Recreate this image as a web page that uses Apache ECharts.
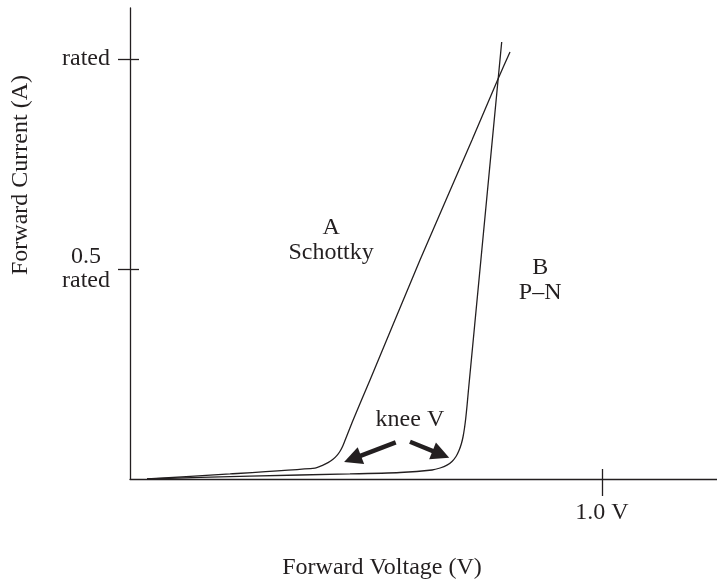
<!DOCTYPE html>
<html>
<head>
<meta charset="utf-8">
<script src="https://cdn.jsdelivr.net/npm/echarts@6/dist/echarts.min.js"></script>
<style>
html,body{margin:0;padding:0;background:#fff;}
#chart{width:717px;height:583px;}
</style>
</head>
<body>
<div id="chart"></div>
<script>
// Curve A (Schottky): forward voltage (V) vs forward current (fraction of rated)
const voltsA   = [0.036, 0.212, 0.392, 0.4068, 0.4195, 0.4301, 0.4386, 0.4453, 0.4508, 0.4555, 0.4710, 0.4905, 0.5085, 0.6144, 0.7246, 0.7797, 0.8051];
const currentA = [0.000, 0.012, 0.026, 0.0319, 0.0390, 0.0471, 0.0562, 0.0667, 0.0786, 0.0917, 0.1357, 0.1881, 0.2357, 0.5214, 0.8071, 0.9524, 1.0167];
// Curve B (P-N)
const voltsB   = [0.036, 0.254, 0.466, 0.572, 0.640, 0.657, 0.6716, 0.6822, 0.6907, 0.6970, 0.7019, 0.7055, 0.7087, 0.7114, 0.7140, 0.7167, 0.7434, 0.7676, 0.7875];
const currentB = [0.000, 0.007, 0.012, 0.0155, 0.0214, 0.0262, 0.0329, 0.0417, 0.0536, 0.0679, 0.0833, 0.1000, 0.1214, 0.1452, 0.1738, 0.2071, 0.5214, 0.8071, 1.0405];
// Tick labels
const yTickValues = [0.5, 1.0];
const yTickLabels = ['0.5\nrated', 'rated'];
const xTickValues = [1.0];
const xTickLabels = ['1.0 V'];
// Annotations (data coordinates)
const notes = [
  { text: 'A\nSchottky', v: 0.426, i: 0.569 },
  { text: 'B\nP\u2013N',  v: 0.869, i: 0.474 },
  { text: 'knee V',      v: 0.593, i: 0.140 }
];
const arrows = [
  [[0.5629, 0.0874], [0.4714, 0.0479]],
  [[0.5932, 0.0886], [0.6587, 0.0588]]
];

const INK = '#231f20';
const FONT = 'Liberation Serif';
const FS = 24;
const X_MAX = 587 / 472;
const Y_MAX = 471 / 420;

function pairs(xs, ys) { return xs.map((x, k) => [x, ys[k]]); }

const chart = echarts.init(document.getElementById('chart'), null, { renderer: 'canvas' });

const yLab = v => { const k = yTickValues.findIndex(t => Math.abs(t - v) < 1e-6); return k >= 0 ? yTickLabels[k] : ''; };
const xLab = v => { const k = xTickValues.findIndex(t => Math.abs(t - v) < 1e-6); return k >= 0 ? xTickLabels[k] : ''; };

const option = {
  animation: false,
  backgroundColor: '#fff',
  grid: { left: 130, right: 0, top: 8, bottom: 104 },
  xAxis: [
    {
      type: 'value', min: 0, max: X_MAX,
      axisLine: { show: true, onZero: false, lineStyle: { color: INK, width: 1.3 } },
      axisTick: { show: true, inside: false, length: 17, customValues: xTickValues, lineStyle: { color: INK, width: 1.3 } },
      axisLabel: { show: true, customValues: xTickValues, formatter: xLab, margin: 22, color: INK, fontFamily: FONT, fontSize: FS },
      splitLine: { show: false }
    },
    {
      type: 'value', min: 0, max: X_MAX, position: 'bottom',
      axisLine: { show: false },
      axisTick: { show: true, inside: true, length: 10, customValues: xTickValues, lineStyle: { color: INK, width: 1.3 } },
      axisLabel: { show: false },
      splitLine: { show: false }
    }
  ],
  yAxis: [
    {
      type: 'value', min: 0, max: Y_MAX,
      axisLine: { show: true, onZero: false, lineStyle: { color: INK, width: 1.3 } },
      axisTick: { show: true, inside: false, length: 12, customValues: yTickValues, lineStyle: { color: INK, width: 1.3 } },
      axisLabel: { show: true, customValues: yTickValues, formatter: yLab, margin: 44, align: 'center', lineHeight: 24, color: INK, fontFamily: FONT, fontSize: FS },
      splitLine: { show: false }
    },
    {
      type: 'value', min: 0, max: Y_MAX, position: 'left',
      axisLine: { show: false },
      axisTick: { show: true, inside: true, length: 9, customValues: yTickValues, lineStyle: { color: INK, width: 1.3 } },
      axisLabel: { show: false },
      splitLine: { show: false }
    }
  ],
  graphic: [
    { type: 'text', x: 21, y: 175, rotation: Math.PI / 2,
      style: { text: 'Forward Current (A)', font: FS + 'px "' + FONT + '"', fill: INK, textAlign: 'center', textVerticalAlign: 'middle' } },
    { type: 'text', x: 382, y: 568,
      style: { text: 'Forward Voltage (V)', font: FS + 'px "' + FONT + '"', fill: INK, textAlign: 'center', textVerticalAlign: 'middle' } }
  ],
  series: [
    {
      name: 'A', type: 'line', data: pairs(voltsA, currentA), showSymbol: false, smooth: 0.2,
      lineStyle: { color: INK, width: 1.3 }, z: 3
    },
    {
      name: 'B', type: 'line', data: pairs(voltsB, currentB), showSymbol: false, smooth: 0.2,
      lineStyle: { color: INK, width: 1.3 }, z: 3
    },
    {
      name: 'notes', type: 'line', data: [], showSymbol: false,
      markPoint: {
        symbol: 'circle', symbolSize: 0,
        label: { show: true, position: 'inside', color: INK, fontFamily: FONT, fontSize: FS, lineHeight: 25, align: 'center', verticalAlign: 'middle', formatter: p => p.name },
        data: notes.map(n => ({ name: n.text, coord: [n.v, n.i] }))
      },
      markLine: {
        silent: true, symbol: ['none', 'triangle'], symbolSize: 18,
        lineStyle: { color: INK, width: 4.5, type: 'solid' },
        itemStyle: { color: INK },
        label: { show: false },
        data: arrows.map(a => [{ coord: a[0] }, { coord: a[1] }])
      }
    }
  ]
};
chart.setOption(option);
</script>
</body>
</html>
